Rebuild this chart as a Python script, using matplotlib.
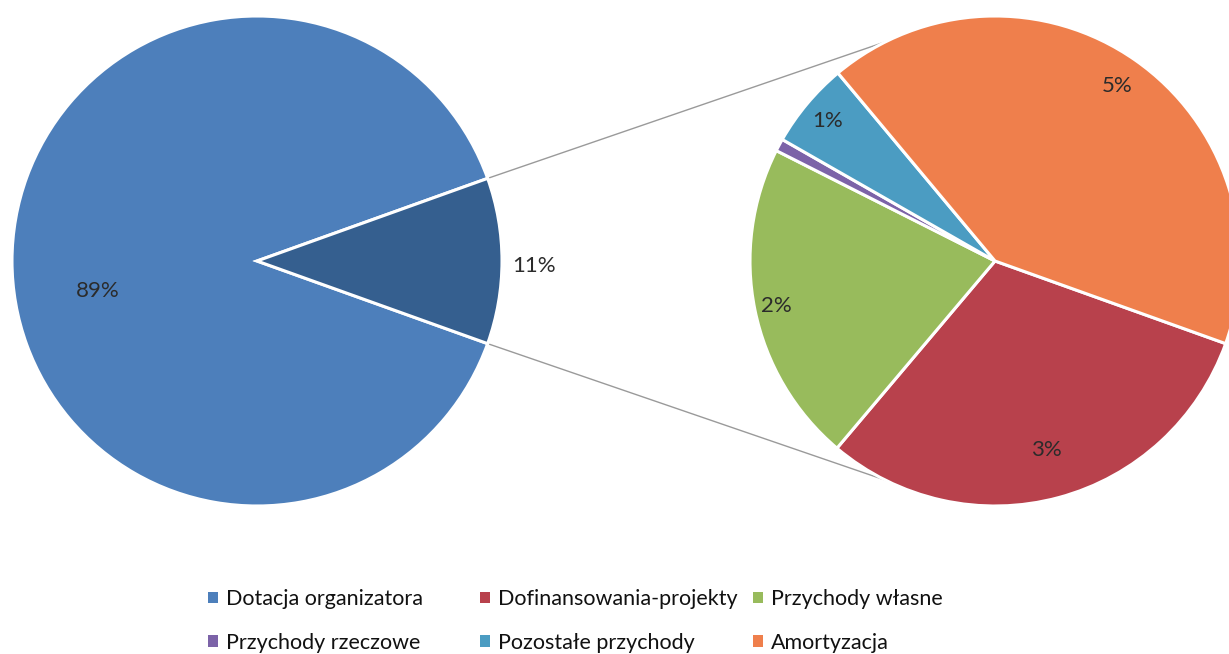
import numpy as np
import matplotlib
matplotlib.use("Agg")
import matplotlib.pyplot as plt
from matplotlib.patches import Patch

plt.rcParams['font.family'] = ['Lato', 'DejaVu Sans']

# ---- data ----
main_labels = ["Dotacja organizatora", "Pozostałe (razem)"]
dotacja_value = 89.05
sub_labels = ["Dofinansowania-projekty", "Przychody własne", "Przychody rzeczowe",
              "Pozostałe przychody", "Amortyzacja"]
sub_values = [3.36, 2.33, 0.09, 0.62, 4.55]
legend_labels = ["Dotacja organizatora", "Dofinansowania-projekty", "Przychody własne",
                 "Przychody rzeczowe", "Pozostałe przychody", "Amortyzacja"]

# ---- styles ----
main_colors = ["#4d7fbb", "#355f8f"]
sub_colors = ["#b8414c", "#98bb5c", "#7c63a8", "#4b9cc2", "#ef7f4c"]
legend_colors = [main_colors[0]] + sub_colors
text_color = "#2b2b2b"
FS = 16
LFS = 15.5

W, H = 1229, 654
PX = 245.0  # pixels per data unit (pie radius)
left_c = (257, 261)
right_c = (995, 262)

fig = plt.figure(figsize=(W / 100, H / 100), dpi=100)
ax = fig.add_axes([0, 0, 1, 1])
ax.set_axis_off()

D = (right_c[0] - left_c[0]) / PX
sub_total = sum(sub_values)
grand_total = dotacja_value + sub_total
half = sub_total / grand_total * 360 / 2

main_vals = [dotacja_value, sub_total]
wl, tl, al = ax.pie(main_vals, colors=main_colors, startangle=-half, counterclock=False,
                    center=(0, 0), radius=1.0,
                    wedgeprops=dict(edgecolor="white", linewidth=2.2),
                    autopct=lambda p: f"{p:.0f}%", pctdistance=0.66,
                    textprops=dict(fontsize=FS, color=text_color))
# label placement (radius fraction, angle deg)
main_label_pos = [(0.66, 190.7), (1.13, -1.0)]
for t, (rr, ang) in zip(al, main_label_pos):
    t.set_position((rr * np.cos(np.radians(ang)), rr * np.sin(np.radians(ang))))

def sub_pct(p):
    v = p * sub_total / grand_total
    return f"{v:.0f}%" if v >= 0.5 else ""

ws, ts, as_ = ax.pie(sub_values, colors=sub_colors, startangle=-half, counterclock=False,
                     center=(D, 0), radius=1.0,
                     wedgeprops=dict(edgecolor="white", linewidth=2.2),
                     autopct=sub_pct, pctdistance=0.87,
                     textprops=dict(fontsize=FS, color=text_color))
# per-label radial distance (best-fit style placement)
sub_label_dist = [0.80, 0.91, 0.87, 0.89, 0.87]
for w, t, rr in zip(ws, as_, sub_label_dist):
    mid = np.radians((w.theta1 + w.theta2) / 2)
    t.set_position((D + rr * np.cos(mid), rr * np.sin(mid)))

# connector lines
conn_ang = 116.5
for s in (1, -1):
    p0 = (np.cos(np.radians(half)), s * np.sin(np.radians(half)))
    p1 = (D + np.cos(np.radians(conn_ang)), s * np.sin(np.radians(conn_ang)))
    ax.plot([p0[0], p1[0]], [p0[1], p1[1]], color="#9a9a9a", lw=1.0, zorder=0)

ax.set_xlim(-left_c[0] / PX, (W - left_c[0]) / PX)
ax.set_ylim(-(H - left_c[1]) / PX, left_c[1] / PX)
ax.set_aspect('equal', adjustable='box')

# legend: three columns placed like the reference
col_x = [208, 480, 753]
for j in range(3):
    idx = [j, j + 3]
    handles = [Patch(facecolor=legend_colors[i], edgecolor='none') for i in idx]
    labs = [legend_labels[i] for i in idx]
    fig.legend(handles, labs, loc='center left',
               bbox_to_anchor=(col_x[j] / W, 1 - 621 / H),
               frameon=False, fontsize=LFS, handlelength=0.45, handleheight=0.45,
               handletextpad=0.38, labelspacing=1.1, borderpad=0, borderaxespad=0,
               labelcolor="#111111")

fig.savefig("out.png", dpi=100)
